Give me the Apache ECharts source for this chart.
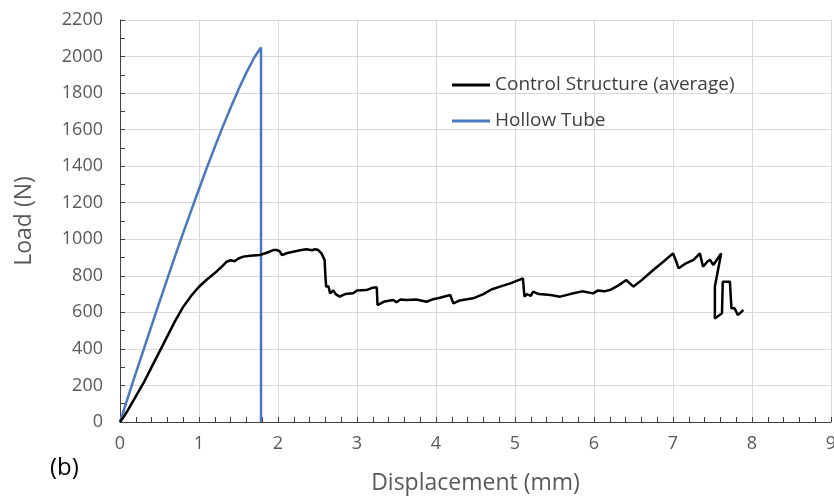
<!DOCTYPE html>
<html>
<head>
<meta charset="utf-8">
<script src="https://cdn.jsdelivr.net/npm/echarts@6/dist/echarts.min.js"></script>
<style>html,body{margin:0;padding:0;background:#fff;}#c{width:834px;height:499px;}</style>
</head>
<body>
<div id="c"></div>
<script>
// Control Structure (average): [displacement mm, load N]
var controlX = [0,0.05,0.1,0.2,0.3,0.4,0.5,0.6,0.7,0.8,0.9,1.0,1.1,1.2,1.3,1.35,1.4,1.45,1.5,1.56,1.65,1.77,1.85,1.94,1.98,2.02,2.05,2.12,2.19,2.28,2.36,2.43,2.47,2.51,2.55,2.59,2.6,2.61,2.64,2.66,2.7,2.73,2.78,2.85,2.95,3.0,3.12,3.2,3.25,3.26,3.35,3.46,3.5,3.55,3.63,3.75,3.88,3.95,4.05,4.18,4.2,4.22,4.3,4.47,4.6,4.7,4.81,4.95,5.10,5.12,5.15,5.2,5.23,5.3,5.45,5.57,5.7,5.85,5.99,6.05,6.13,6.2,6.3,6.41,6.45,6.5,6.6,6.75,6.9,7.0,7.04,7.07,7.15,7.26,7.34,7.38,7.44,7.47,7.51,7.61,7.53,7.53,7.62,7.63,7.72,7.74,7.78,7.82,7.87,7.89];
var controlY = [0,30,65,140,215,300,385,470,555,630,690,740,780,815,855,877,885,880,895,905,910,914,925,941,941,935,914,925,932,940,945,940,945,941,923,887,800,741,741,704,720,700,686,700,704,720,722,735,737,640,660,668,655,670,668,670,658,670,680,695,685,649,665,677,700,725,741,760,786,686,700,690,713,700,695,686,700,715,704,720,715,722,745,777,760,741,775,832,885,923,880,841,865,887,923,850,880,887,859,923,741,567,595,768,768,622,622,586,604,613];
// Hollow Tube
var hollowX = [0,0.1,0.2,0.3,0.4,0.5,0.6,0.7,0.8,0.9,1.0,1.1,1.2,1.3,1.4,1.5,1.6,1.7,1.785,1.785];
var hollowY = [0,135,268,398,528,657,785,912,1035,1155,1275,1392,1505,1615,1720,1820,1912,1995,2050,0];
var xTicks = [0,1,2,3,4,5,6,7,8,9];
var yTicks = [0,200,400,600,800,1000,1200,1400,1600,1800,2000,2200];

function pairs(xs, ys){ return xs.map(function(x,i){ return [x, ys[i]]; }); }

var FONT = 'Open Sans';
var chart = echarts.init(document.getElementById('c'), null, {renderer:'canvas'});
chart.setOption({
  animation: false,
  textStyle: {fontFamily: FONT},
  grid: {left: 120, right: 3, top: 20, bottom: 77, containLabel: false, outerBoundsMode: 'none'},
  legend: {
    orient: 'vertical', left: 452, top: 74, padding: 0,
    itemWidth: 38, itemHeight: 3, itemGap: 14, icon: 'rect',
    textStyle: {color: '#404040', fontSize: 19, fontFamily: FONT, lineHeight: 22},
    data: ['Control Structure (average)', 'Hollow Tube']
  },
  xAxis: {
    type: 'value', min: xTicks[0], max: xTicks[xTicks.length-1], interval: 1,
    name: 'Displacement (mm)', nameLocation: 'middle', nameGap: 50,
    nameTextStyle: {color: '#595959', fontSize: 23, fontFamily: FONT},
    axisLine: {show: true, lineStyle: {color: '#404040', width: 1}},
    axisTick: {show: true, inside: true, length: 5, lineStyle: {color: '#404040'}},
    minorTick: {show: true, splitNumber: 5, length: 5, lineStyle: {color: '#404040'}},
    splitLine: {show: true, lineStyle: {color: '#d9d9d9', width: 1}},
    axisLabel: {color: '#595959', fontSize: 18, margin: 13, fontFamily: FONT}
  },
  yAxis: {
    type: 'value', min: yTicks[0], max: yTicks[yTicks.length-1], interval: 200,
    name: 'Load (N)', nameLocation: 'middle', nameGap: 84,
    nameTextStyle: {color: '#595959', fontSize: 23, fontFamily: FONT},
    axisLine: {show: true, lineStyle: {color: '#404040', width: 1}},
    axisTick: {show: true, inside: true, length: 5, lineStyle: {color: '#404040'}},
    minorTick: {show: true, splitNumber: 2, length: 5, lineStyle: {color: '#404040'}},
    splitLine: {show: true, lineStyle: {color: '#d9d9d9', width: 1}},
    axisLabel: {color: '#595959', fontSize: 18, margin: 17, fontFamily: FONT,
                formatter: function(v){ return String(v); }}
  },
  graphic: [{type: 'text', left: 50, top: 456, style: {text: '(b)', fontSize: 24, fill: '#000', fontFamily: FONT}}],
  series: [
    {name: 'Control Structure (average)', type: 'line', showSymbol: false, symbol: 'none',
     data: pairs(controlX, controlY), lineStyle: {color: '#000', width: 2.5}, itemStyle: {color: '#000'}, z: 3},
    {name: 'Hollow Tube', type: 'line', showSymbol: false, symbol: 'none',
     data: pairs(hollowX, hollowY), lineStyle: {color: '#4A78BE', width: 2.5}, itemStyle: {color: '#4A78BE'}, z: 2}
  ]
});
</script>
</body>
</html>
